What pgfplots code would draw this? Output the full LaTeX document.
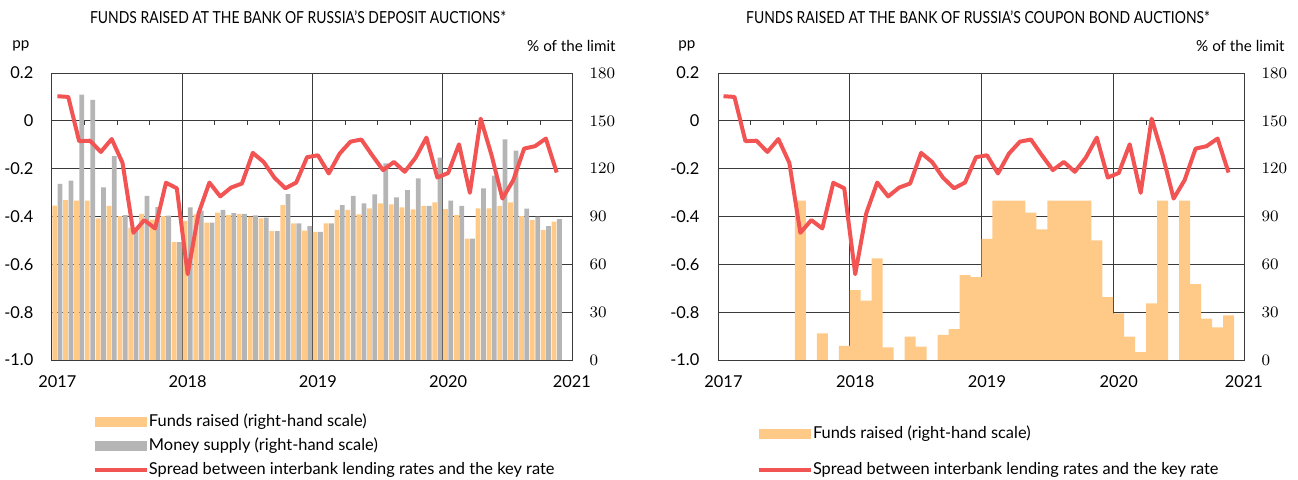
\documentclass[border=0pt]{standalone}
\usepackage{fontspec}
\setmainfont{Lato}
\newfontfamily\titlefont[FakeStretch=0.84]{Lato}
\usepackage{pgfplots}
\usepackage{pgfplotstable}
\pgfplotsset{compat=1.18}
\definecolor{orC}{HTML}{FFCA88}
\definecolor{grC}{HTML}{B5B5B5}
\definecolor{rdC}{HTML}{F25454}
\definecolor{frC}{HTML}{3A3A3A}

\pgfplotstableread{
m spread dep money
0 0.103 96.8 110.4
1 0.100 100.3 112.5
2 -0.085 99.9 166.4
3 -0.083 99.9 163.1
4 -0.130 88.9 108.3
5 -0.076 96.6 127.9
6 -0.176 90.3 90.9
7 -0.468 83.0 83.0
8 -0.415 91.7 102.9
9 -0.450 88.0 95.9
10 -0.259 90.3 90.6
11 -0.282 74.0 74.0
12 -0.641 87.3 95.8
13 -0.387 91.4 93.7
14 -0.258 86.1 86.1
15 -0.316 92.4 94.1
16 -0.279 90.9 92.2
17 -0.262 91.6 91.6
18 -0.134 89.9 90.7
19 -0.172 88.9 89.3
20 -0.238 80.9 80.9
21 -0.282 97.2 104.1
22 -0.258 85.7 85.7
23 -0.152 81.1 84.0
24 -0.144 80.3 80.3
25 -0.220 85.7 85.7
26 -0.137 94.1 97.2
27 -0.087 94.1 102.9
28 -0.078 91.4 98.3
29 -0.144 95.1 103.9
30 -0.206 98.3 123.4
31 -0.172 97.6 102.0
32 -0.213 95.8 106.6
33 -0.154 94.5 113.9
34 -0.070 96.6 96.6
35 -0.237 98.9 126.9
36 -0.218 94.7 99.9
37 -0.098 90.9 96.6
38 -0.301 76.1 76.1
39 0.009 95.1 107.6
40 -0.144 95.1 115.6
41 -0.325 96.6 138.4
42 -0.248 98.9 131.3
43 -0.116 90.3 94.9
44 -0.106 87.8 89.9
45 -0.074 81.5 84.0
46 -0.216 86.8 88.4
}\datatable

\pgfplotsset{
  basepanel/.style={
    scale only axis, height=143.5pt,
    xmin=0, xmax=48,
    tick label style={font=\fontsize{8.2}{9}\selectfont},
    major tick length=0pt,
  },
  baraxis/.style={
    basepanel,
    ymin=0, ymax=180,
    ytick={0,30,60,90,120,150,180},
    yticklabel pos=right,
    yticklabel style={anchor=west, xshift=4.8pt},
    xtick={0,12,24,36,48}, xticklabels={},
    ymajorgrids, xmajorgrids,
    grid style={frC, line width=0.5pt},
    axis line style={draw=none},
    extra x ticks={0.5,12.5,24.5,36.5,47.9},
    extra x tick labels={2017,2018,2019,2020,2021},
    extra x tick style={grid=none, major tick length=0pt,
      xticklabel style={anchor=north, yshift=-4.2pt}},
    legend cell align=left,
    legend style={draw=none, fill=none, inner sep=0pt, outer sep=0pt,
      font=\fontsize{8.2}{9}\selectfont,
      nodes={inner sep=0pt, text height=6pt, text depth=1.7pt},
      /tikz/every even column/.append style={column sep=2.5pt}},
  },
  lineaxis/.style={
    basepanel,
    ymin=-1, ymax=0.2,
    ytick={-1,-0.8,-0.6,-0.4,-0.2,0,0.2},
    yticklabels={-1.0,-0.8,-0.6,-0.4,-0.2,0,0.2},
    ytick pos=left,
    yticklabel style={anchor=east, xshift=-5.8pt},
    xtick=\empty,
    axis line style={frC, line width=0.5pt},
  },
}

\begin{document}
\begin{tikzpicture}
\useasboundingbox (0,0) rectangle (649pt,-239.5pt);

% ---------------- left panel ----------------
\node[font=\titlefont\fontsize{8.3}{10}\selectfont, anchor=center] at (149pt,-8.5pt)
  {FUNDS RAISED AT THE BANK OF RUSSIA’S DEPOSIT AUCTIONS*};
\node[font=\fontsize{7.6}{9}\selectfont, anchor=west, inner sep=0pt] at (6pt,-23pt) {pp};
\node[font=\fontsize{7.6}{9}\selectfont, anchor=east, inner sep=0pt] at (308pt,-23pt) {\% of the limit};

\begin{axis}[baraxis, at={(26pt,-180pt)}, anchor=south west, width=260.5pt,
  legend style={at={(rel axis cs:0,0)}, anchor=north west, xshift=20.5pt, yshift=-27pt,
    row sep=4.3pt}]
  \addplot[ybar, bar width=0.44, bar shift=-0.245, fill=orC, draw=none,
    legend image code/.code={\fill[orC] (0pt,-2.5pt) rectangle (26pt,2.5pt);}]
    table[x expr=\thisrow{m}+0.5, y=dep] {\datatable};
  \addlegendentry{Funds raised (right-hand scale)}
  \addplot[ybar, bar width=0.44, bar shift=0.245, fill=grC, draw=none,
    legend image code/.code={\fill[grC] (0pt,-2.5pt) rectangle (26pt,2.5pt);}]
    table[x expr=\thisrow{m}+0.5, y=money] {\datatable};
  \addlegendentry{Money supply (right-hand scale)}
  \addlegendimage{legend image code/.code={\draw[rdC, line width=2pt] (0pt,0pt) -- (26pt,0pt);}}
  \addlegendentry{Spread between interbank lending rates and the key rate}
\end{axis}

\begin{axis}[lineaxis, at={(26pt,-180pt)}, anchor=south west, width=260.5pt]
  \addplot[ycomb, frC, line width=0.5pt, mark=none] coordinates {
    (0,-0.017) (3,-0.017) (6,-0.017) (9,-0.017) (12,-0.017) (15,-0.017) (18,-0.017)
    (21,-0.017) (24,-0.017) (27,-0.017) (30,-0.017) (33,-0.017) (36,-0.017)
    (39,-0.017) (42,-0.017) (45,-0.017) (48,-0.017)};
  \addplot[rdC, line width=2pt, mark=none, line join=round]
    table[x expr=\thisrow{m}+0.5, y=spread] {\datatable};
\end{axis}

% ---------------- right panel ----------------
\node[font=\titlefont\fontsize{8.3}{10}\selectfont, anchor=center] at (489pt,-8.5pt)
  {FUNDS RAISED AT THE BANK OF RUSSIA’S COUPON BOND AUCTIONS*};
\node[font=\fontsize{7.6}{9}\selectfont, anchor=west, inner sep=0pt] at (339pt,-23pt) {pp};
\node[font=\fontsize{7.6}{9}\selectfont, anchor=east, inner sep=0pt] at (642.5pt,-23pt) {\% of the limit};

\begin{axis}[baraxis, at={(359pt,-180pt)}, anchor=south west, width=263.5pt,
  legend style={at={(rel axis cs:0,0)}, anchor=north west, xshift=19.5pt, yshift=-33pt,
    row sep=10.3pt}]
  \addplot[const plot, fill=orC, draw=none,
    legend image code/.code={\fill[orC] (0pt,-2.5pt) rectangle (26pt,2.5pt);}]
    coordinates {
    (0,0) (1,0) (2,0) (3,0) (4,0) (5,0) (6,0) (7,100) (8,0) (9,16.7) (10,0) (11,8.8)
    (12,43.8) (13,37.2) (14,63.7) (15,7.9) (16,0) (17,14.6) (18,8.4) (19,0) (20,15.7)
    (21,19.4) (22,53.2) (23,52.0) (24,76) (25,100) (26,100) (27,100) (28,92.5) (29,81.9)
    (30,100) (31,100) (32,100) (33,100) (34,75) (35,39.5) (36,29.2) (37,14.6) (38,5.0)
    (39,35.5) (40,100) (41,0) (42,100) (43,47.6) (44,25.9) (45,20.5) (46,28.0) (47,28.0)
    } \closedcycle;
  \addlegendentry{Funds raised (right-hand scale)}
  \addlegendimage{legend image code/.code={\draw[rdC, line width=2pt] (0pt,0pt) -- (26pt,0pt);}}
  \addlegendentry{Spread between interbank lending rates and the key rate}
\end{axis}

\begin{axis}[lineaxis, at={(359pt,-180pt)}, anchor=south west, width=263.5pt]
  \addplot[ycomb, frC, line width=0.5pt, mark=none] coordinates {
    (0,-0.017) (3,-0.017) (6,-0.017) (9,-0.017) (12,-0.017) (15,-0.017) (18,-0.017)
    (21,-0.017) (24,-0.017) (27,-0.017) (30,-0.017) (33,-0.017) (36,-0.017)
    (39,-0.017) (42,-0.017) (45,-0.017) (48,-0.017)};
  \addplot[rdC, line width=2pt, mark=none, line join=round]
    table[x expr=\thisrow{m}+0.5, y=spread] {\datatable};
\end{axis}
\end{tikzpicture}
\end{document}
